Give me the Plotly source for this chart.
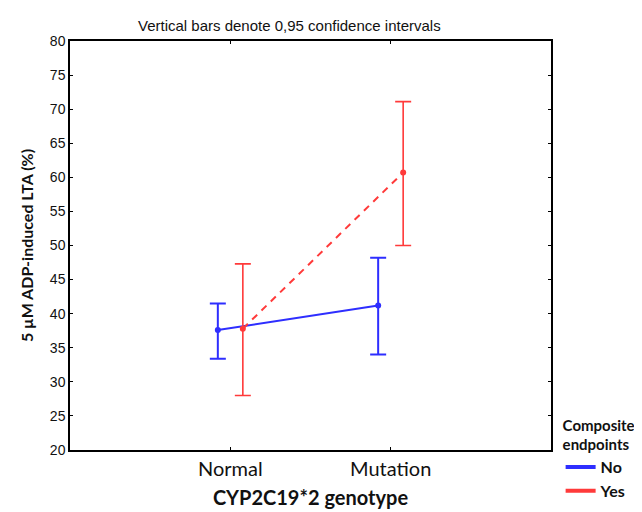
import plotly.graph_objects as go

categories = ["Normal", "Mutation"]
cat_pos = [1, 2]
no_mean = [37.6, 41.2]
no_upper = [41.5, 48.2]
no_lower = [33.4, 34.0]
yes_mean = [37.8, 60.7]
yes_upper = [47.3, 71.1]
yes_lower = [28.0, 50.0]
y_ticks = [20, 25, 30, 35, 40, 45, 50, 55, 60, 65, 70, 75, 80]

BLUE = "#2e2eff"
RED = "#ff3a3a"
offset = 0.078

def errs(mean, up, lo):
    return [u - m for u, m in zip(up, mean)], [m - l for m, l in zip(mean, lo)]

fig = go.Figure()

no_plus, no_minus = errs(no_mean, no_upper, no_lower)
yes_plus, yes_minus = errs(yes_mean, yes_upper, yes_lower)

fig.add_trace(go.Scatter(
    x=[p - offset for p in cat_pos], y=no_mean, mode="lines+markers",
    line=dict(color=BLUE, width=2), marker=dict(color=BLUE, size=6),
    error_y=dict(type="data", array=no_plus, arrayminus=no_minus,
                 color=BLUE, thickness=2, width=8),
    showlegend=False))
fig.add_trace(go.Scatter(
    x=[p + offset for p in cat_pos], y=yes_mean, mode="lines+markers",
    line=dict(color=RED, width=2, dash="7px,6px"), marker=dict(color=RED, size=6),
    error_y=dict(type="data", array=yes_plus, arrayminus=yes_minus,
                 color=RED, thickness=1.6, width=8),
    showlegend=False))

# legend entries
fig.add_trace(go.Scatter(x=[None], y=[None], mode="lines", name="No",
                         line=dict(color=BLUE, width=4)))
fig.add_trace(go.Scatter(x=[None], y=[None], mode="lines", name="Yes",
                         line=dict(color=RED, width=4)))

fig.update_layout(
    width=642, height=512,
    margin=dict(l=62, r=82, t=33, b=59),
    paper_bgcolor="white", plot_bgcolor="white",
    title=dict(text="Vertical bars denote 0,95 confidence intervals",
               x=0.456, xref="paper", xanchor="center",
               y=1 - 18 / 512, yref="container", yanchor="middle",
               font=dict(family="Liberation Sans, Arial", size=15, color="#111")),
    xaxis=dict(range=[0, 3], tickvals=cat_pos, ticktext=categories,
               showline=True, linecolor="black", linewidth=1.5, mirror="ticks",
               ticks="inside", ticklen=3, tickcolor="black", showgrid=False,
               zeroline=False,
               tickfont=dict(family="Lato, Open Sans", size=20, color="#111"),
               title=dict(text="<b>CYP2C19*2 genotype</b>", standoff=12,
                          font=dict(family="Lato, Open Sans", size=20, color="#111"))),
    yaxis=dict(range=[20, 80], tickvals=y_ticks,
               showline=True, linecolor="black", linewidth=1.5, mirror="ticks",
               ticks="inside", ticklen=3, tickcolor="black", showgrid=False,
               zeroline=False,
               tickfont=dict(family="Liberation Sans, Arial", size=14, color="#111"),
               title=dict(text="<b>5 µM ADP-induced LTA (%)</b>", standoff=12,
                          font=dict(family="Lato, Open Sans", size=16, color="#111"))),
    legend=dict(x=1.02, xanchor="left", y=0.095, yanchor="top",
                title=dict(text="<b>Composite<br>endpoints</b>", side="top",
                           font=dict(family="Lato, Open Sans", size=15, color="#111")),
                font=dict(family="Lato, Open Sans", size=16, color="#111"),
                tracegroupgap=0, itemwidth=30, bgcolor="rgba(0,0,0,0)"),
)
fig.update_layout(legend_font_weight="bold")

fig.write_html("out.html")
